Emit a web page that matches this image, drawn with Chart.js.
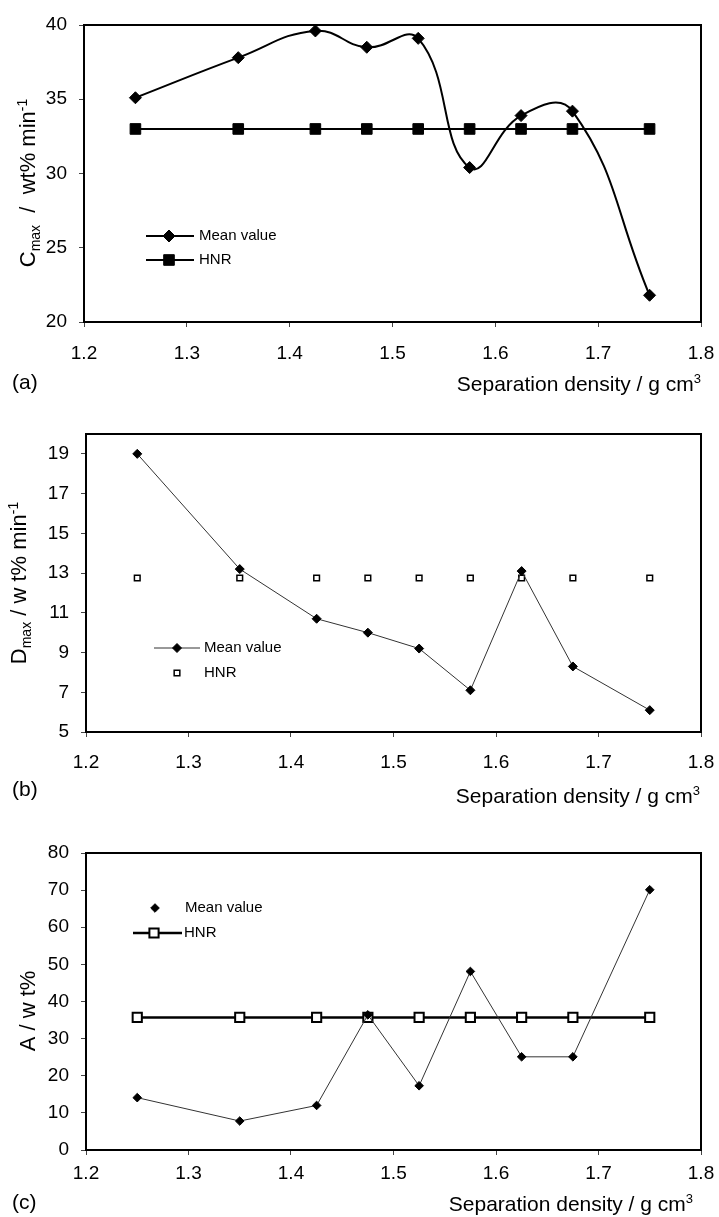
<!DOCTYPE html>
<html>
<head>
<meta charset="utf-8">
<script src="https://cdn.jsdelivr.net/npm/chart.js@4.4.1/dist/chart.umd.min.js"></script>
<style>
  html, body { margin: 0; padding: 0; background: #fff; }
  #wrap { position: relative; width: 719px; height: 1217px; }
  canvas { position: absolute; left: 0; }
</style>
</head>
<body>
<div id="wrap">
  <canvas id="chartA" width="719" height="400" style="top:0px"></canvas>
  <canvas id="chartB" width="719" height="410" style="top:400px"></canvas>
  <canvas id="chartC" width="719" height="407" style="top:810px"></canvas>
</div>
<script>
// separation densities (g cm-3)
const density = [1.25, 1.35, 1.425, 1.475, 1.525, 1.575, 1.625, 1.675, 1.75];

// (a) Cmax
const cmaxMean = [35.1, 37.8, 39.6, 38.5, 39.1, 30.4, 33.9, 34.2, 21.8];
const cmaxHnr = [33.0, 33.0, 33.0, 33.0, 33.0, 33.0, 33.0, 33.0, 33.0];
// (b) Dmax
const dmaxMean = [19.0, 13.2, 10.7, 10.0, 9.2, 7.1, 13.1, 8.3, 6.1];
const dmaxHnr = [12.75, 12.75, 12.75, 12.75, 12.75, 12.75, 12.75, 12.75, 12.75];
// (c) A
const ashMean = [14.1, 7.8, 12.0, 36.4, 17.3, 48.1, 25.1, 25.1, 70.1];
const ashHnr = [35.7, 35.7, 35.7, 35.7, 35.7, 35.7, 35.7, 35.7, 35.7];

const xTicks = [1.2, 1.3, 1.4, 1.5, 1.6, 1.7, 1.8];
const cmaxTicks = [20, 25, 30, 35, 40];
const dmaxTicks = [5, 7, 9, 11, 13, 15, 17, 19];
const ashTicks = [0, 10, 20, 30, 40, 50, 60, 70, 80];

const FONT = '"Liberation Sans", Arial, Helvetica, sans-serif';
Chart.defaults.font.family = FONT;
Chart.defaults.color = '#000';

function pts(ys) {
  return density.map((x, i) => ({ x: x, y: ys[i] }));
}

// draws text made of parts (normal / sub / sup), centred vertically on y
function drawRich(ctx, parts, x, y, rot, align, main) {
  ctx.save();
  ctx.translate(x, y);
  ctx.rotate(rot);
  ctx.textAlign = 'left';
  ctx.textBaseline = 'alphabetic';
  const small = Math.round(main * 0.62);
  const sizes = parts.map(p => p.k ? small : main);
  const widths = parts.map((p, i) => {
    ctx.font = sizes[i] + 'px ' + FONT;
    return ctx.measureText(p.t).width;
  });
  const total = widths.reduce((s, w) => s + w, 0);
  let cx = align === 'right' ? -total : align === 'center' ? -total / 2 : 0;
  const base = main * 0.36;
  parts.forEach((p, i) => {
    ctx.font = sizes[i] + 'px ' + FONT;
    let dy = base;
    if (p.k === 'sub') dy += main * 0.24;
    if (p.k === 'sup') dy -= main * 0.38;
    ctx.fillStyle = '#000';
    ctx.fillText(p.t, cx, dy);
    cx += widths[i];
  });
  ctx.restore();
}

const deco = {
  id: 'deco',
  afterDraw(chart, args, o) {
    const ctx = chart.ctx, a = chart.chartArea;
    ctx.save();
    ctx.strokeStyle = '#000';
    ctx.lineWidth = 2;
    ctx.strokeRect(a.left, a.top, a.right - a.left, a.bottom - a.top);

    drawRich(ctx, o.xTitle, o.xTitleX, o.xTitleY, 0, 'right', 21);
    drawRich(ctx, o.yTitle, o.yTitleX, o.yTitleY, -Math.PI / 2, 'center', 22);

    ctx.fillStyle = '#000';
    ctx.font = '21px ' + FONT;
    ctx.textAlign = 'left';
    ctx.textBaseline = 'middle';
    ctx.fillText(o.panel, o.panelX, o.panelY);

    o.legend.forEach(it => {
      const ds = chart.data.datasets[it.ds];
      if (it.line) {
        ctx.beginPath();
        ctx.moveTo(it.x0, it.y);
        ctx.lineTo(it.x1, it.y);
        ctx.lineWidth = ds.borderWidth;
        ctx.strokeStyle = ds.borderColor;
        ctx.stroke();
      }
      ctx.fillStyle = ds.pointBackgroundColor;
      ctx.strokeStyle = ds.pointBorderColor;
      ctx.lineWidth = ds.pointBorderWidth;
      Chart.helpers.drawPoint(ctx, {
        pointStyle: ds.pointStyle, radius: ds.pointRadius,
        borderWidth: ds.pointBorderWidth, rotation: 0
      }, it.mx, it.y);
      ctx.fillStyle = '#000';
      ctx.font = '15px ' + FONT;
      ctx.textAlign = 'left';
      ctx.textBaseline = 'middle';
      ctx.fillText(ds.label, it.tx, it.y);
    });
    ctx.restore();
  }
};

function xAxis(height, pad) {
  return {
    type: 'linear', min: 1.2, max: 1.8,
    afterBuildTicks: s => { s.ticks = xTicks.map(v => ({ value: v })); },
    afterFit: s => {
      s.height = height;
      // keep the plot edges where the layout padding puts them
      s.paddingLeft = 0;
      s.paddingRight = 0;
    },
    ticks: { callback: v => v.toFixed(1), color: '#000', font: { size: 19 }, padding: pad, maxRotation: 0, autoSkip: false },
    grid: { drawOnChartArea: false, drawTicks: true, tickLength: 5, color: '#444', lineWidth: 1 },
    border: { display: true, color: '#000', width: 2 }
  };
}

function yAxis(min, max, ticks, width) {
  return {
    type: 'linear', min: min, max: max,
    afterBuildTicks: s => { s.ticks = ticks.map(v => ({ value: v })); },
    afterFit: s => { s.width = width; s.paddingTop = 0; s.paddingBottom = 0; },
    ticks: { color: '#000', font: { size: 19 }, padding: 12 },
    grid: { drawOnChartArea: false, drawTicks: true, tickLength: 5, color: '#444', lineWidth: 1 },
    border: { display: true, color: '#000', width: 2 }
  };
}

const xTitle = [{ t: 'Separation density / g cm' }, { t: '3', k: 'sup' }];

// (a)
new Chart(document.getElementById('chartA'), {
  type: 'line',
  data: {
    datasets: [{
      label: 'Mean value',
      data: pts(cmaxMean),
      borderColor: '#000', borderWidth: 2, tension: 0.45,
      pointStyle: 'rectRot', pointRadius: 6,
      pointBackgroundColor: '#000', pointBorderColor: '#000', pointBorderWidth: 1
    }, {
      label: 'HNR',
      data: pts(cmaxHnr),
      borderColor: '#000', borderWidth: 2, tension: 0,
      pointStyle: 'rect', pointRadius: 7.5,
      pointBackgroundColor: '#000', pointBorderColor: '#000', pointBorderWidth: 1
    }]
  },
  options: {
    responsive: false, animation: false,
    layout: { padding: { top: 25, right: 18, left: 0, bottom: 0 } },
    scales: { x: xAxis(78, 15), y: yAxis(20, 40, cmaxTicks, 84) },
    plugins: {
      legend: { display: false }, tooltip: { enabled: false },
      deco: {
        xTitle: xTitle, xTitleX: 701, xTitleY: 383,
        yTitle: [{ t: 'C' }, { t: 'max', k: 'sub' }, { t: '  /  wt% min' }, { t: '-1', k: 'sup' }],
        yTitleX: 27, yTitleY: 183,
        panel: '(a)', panelX: 12, panelY: 383,
        legend: [
          { ds: 0, line: true, x0: 146, x1: 194, mx: 169, tx: 199, y: 236 },
          { ds: 1, line: true, x0: 146, x1: 194, mx: 169, tx: 199, y: 260 }
        ]
      }
    }
  },
  plugins: [deco]
});

// (b)
new Chart(document.getElementById('chartB'), {
  type: 'line',
  data: {
    datasets: [{
      label: 'Mean value',
      data: pts(dmaxMean),
      borderColor: '#333', borderWidth: 1, tension: 0,
      pointStyle: 'rectRot', pointRadius: 4.5,
      pointBackgroundColor: '#000', pointBorderColor: '#000', pointBorderWidth: 1
    }, {
      label: 'HNR',
      data: pts(dmaxHnr),
      showLine: false,
      borderColor: '#000', borderWidth: 1,
      pointStyle: 'rect', pointRadius: 4,
      pointBackgroundColor: '#fff', pointBorderColor: '#000', pointBorderWidth: 1.5
    }]
  },
  options: {
    responsive: false, animation: false,
    layout: { padding: { top: 34, right: 18, left: 0, bottom: 0 } },
    scales: { x: xAxis(78, 14), y: yAxis(5, 20, dmaxTicks, 86) },
    plugins: {
      legend: { display: false }, tooltip: { enabled: false },
      deco: {
        xTitle: xTitle, xTitleX: 700, xTitleY: 395,
        yTitle: [{ t: 'D' }, { t: 'max', k: 'sub' }, { t: ' / w t% min' }, { t: '-1', k: 'sup' }],
        yTitleX: 18, yTitleY: 183,
        panel: '(b)', panelX: 12, panelY: 390,
        legend: [
          { ds: 0, line: true, x0: 154, x1: 200, mx: 177, tx: 204, y: 248 },
          { ds: 1, line: false, mx: 177, tx: 204, y: 273 }
        ]
      }
    }
  },
  plugins: [deco]
});

// (c)
new Chart(document.getElementById('chartC'), {
  type: 'line',
  data: {
    datasets: [{
      label: 'Mean value',
      data: pts(ashMean),
      borderColor: '#333', borderWidth: 1, tension: 0,
      pointStyle: 'rectRot', pointRadius: 4.3,
      pointBackgroundColor: '#000', pointBorderColor: '#000', pointBorderWidth: 1
    }, {
      label: 'HNR',
      data: pts(ashHnr),
      borderColor: '#000', borderWidth: 2.5, tension: 0,
      pointStyle: 'rect', pointRadius: 6.5,
      pointBackgroundColor: '#fff', pointBorderColor: '#000', pointBorderWidth: 2
    }]
  },
  options: {
    responsive: false, animation: false,
    layout: { padding: { top: 43, right: 18, left: 0, bottom: 0 } },
    scales: { x: xAxis(67, 7), y: yAxis(0, 80, ashTicks, 86) },
    plugins: {
      legend: { display: false }, tooltip: { enabled: false },
      deco: {
        xTitle: xTitle, xTitleX: 693, xTitleY: 393,
        yTitle: [{ t: 'A / w t%' }],
        yTitleX: 27, yTitleY: 201,
        panel: '(c)', panelX: 12, panelY: 393,
        legend: [
          { ds: 0, line: false, mx: 155, tx: 185, y: 98 },
          { ds: 1, line: true, x0: 133, x1: 182, mx: 154, tx: 184, y: 123 }
        ]
      }
    }
  },
  plugins: [deco]
});
</script>
</body>
</html>
